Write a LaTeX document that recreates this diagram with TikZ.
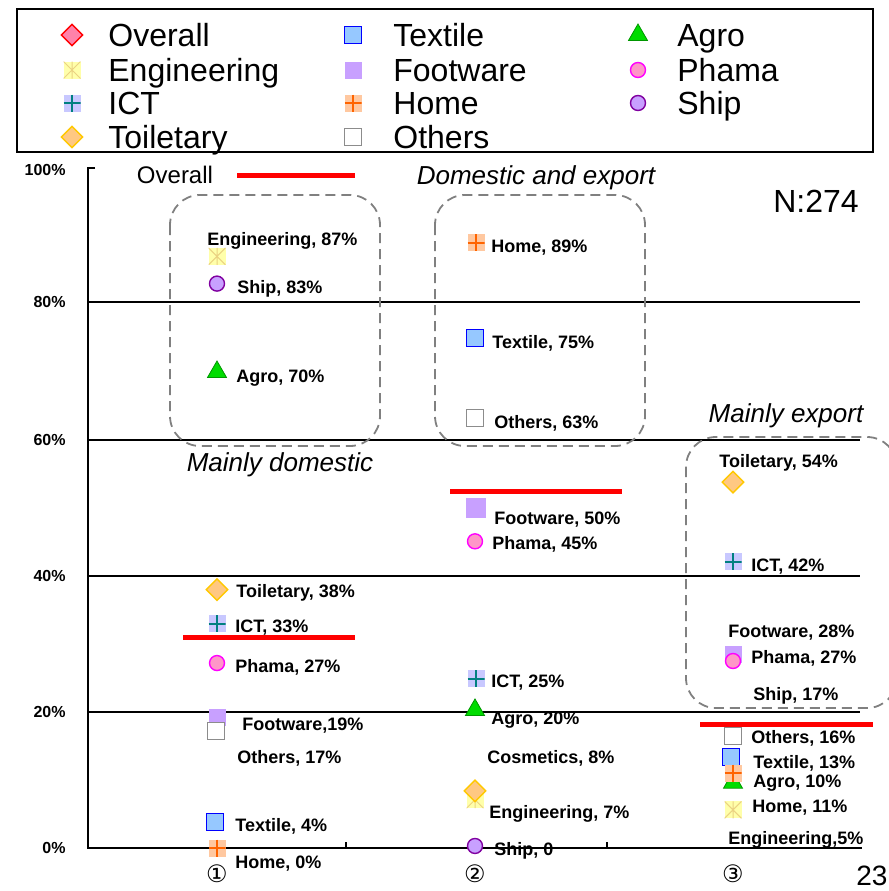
\documentclass[tikz,border=0pt]{standalone}
\usepackage{fontspec}
\setmainfont{Liberation Sans}
\newfontfamily\circfont{DejaVu Sans}
\usetikzlibrary{shapes.geometric}
\definecolor{overallred}{RGB}{255,0,0}
\definecolor{overallfill}{RGB}{255,130,170}
\definecolor{engfill}{RGB}{255,255,170}
\definecolor{engline}{RGB}{235,210,130}
\definecolor{ictfill}{RGB}{200,200,255}
\definecolor{ictline}{RGB}{0,128,128}
\definecolor{toilfill}{RGB}{255,200,130}
\definecolor{toilline}{RGB}{255,200,0}
\definecolor{textilefill}{RGB}{150,200,255}
\definecolor{textileline}{RGB}{0,0,255}
\definecolor{footfill}{RGB}{200,160,255}
\definecolor{homefill}{RGB}{255,200,160}
\definecolor{homeline}{RGB}{255,100,0}
\definecolor{othersline}{RGB}{140,140,140}
\definecolor{agrofill}{RGB}{0,220,0}
\definecolor{agroline}{RGB}{0,150,0}
\definecolor{phamafill}{RGB}{255,150,200}
\definecolor{phamaline}{RGB}{255,0,255}
\definecolor{shipfill}{RGB}{200,160,255}
\definecolor{shipline}{RGB}{128,0,160}
\definecolor{boxgray}{RGB}{128,128,128}
\newcommand{\crossin}[1]{\draw[#1,line width=1pt] (path picture bounding box.north) -- (path picture bounding box.south) (path picture bounding box.west) -- (path picture bounding box.east);}
\tikzstyle{sym}=[inner sep=0pt, minimum size=8.5pt, line width=0.7pt]
\tikzstyle{overall}=[sym, diamond, minimum size=11pt, draw=overallred, fill=overallfill]
\tikzstyle{engineering}=[sym, rectangle, fill=engfill, path picture={\draw[engline,line width=0.5pt] (path picture bounding box.north west) -- (path picture bounding box.south east) (path picture bounding box.south west) -- (path picture bounding box.north east) (path picture bounding box.north) -- (path picture bounding box.south);}]
\tikzstyle{ict}=[sym, rectangle, fill=ictfill, path picture={\crossin{ictline}}]
\tikzstyle{toiletary}=[sym, diamond, minimum size=11pt, draw=toilline, fill=toilfill]
\tikzstyle{textile}=[sym, rectangle, draw=textileline, fill=textilefill]
\tikzstyle{footware}=[sym, rectangle, fill=footfill]
\tikzstyle{home}=[sym, rectangle, fill=homefill, path picture={\crossin{homeline}}]
\tikzstyle{others}=[sym, rectangle, draw=othersline, fill=white]
\tikzstyle{agro}=[sym, regular polygon, regular polygon sides=3, minimum size=11pt, draw=agroline, fill=agrofill, line width=0.4pt]
\tikzstyle{phama}=[sym, circle, minimum size=7.5pt, draw=phamaline, fill=phamafill]
\tikzstyle{ship}=[sym, circle, minimum size=7.5pt, draw=shipline, fill=shipfill]
\tikzstyle{legtext}=[anchor=west, inner sep=0pt, text height=11.5pt, text depth=0pt, font=\fontsize{16}{18}\selectfont]
\tikzstyle{lbl}=[anchor=west, inner sep=0pt, text height=6.5pt, text depth=0pt, font=\fontsize{9}{10}\selectfont\bfseries]
\tikzstyle{ylab}=[anchor=east, inner sep=0pt, text height=5.7pt, text depth=0pt, font=\fontsize{8}{9}\selectfont\bfseries]
\tikzstyle{heading}=[inner sep=0pt, text height=9.3pt, text depth=0pt, font=\fontsize{13}{15}\selectfont\itshape]
\tikzstyle{colnum}=[inner sep=0pt, font=\circfont\fontsize{12}{13}\selectfont]
\tikzstyle{gridline}=[line width=0.9pt]
\tikzstyle{overallbar}=[overallred, line width=2.5pt]
\tikzstyle{groupbox}=[boxgray, dashed, line width=0.9pt, dash pattern=on 5pt off 3pt, rounded corners=15pt]

\begin{document}
\begin{tikzpicture}[x=0.5pt,y=-0.5pt]
  \useasboundingbox (0,0) rectangle (889,891);
  %% Legend
  \draw[line width=0.9pt] (17,9) rectangle (873,152);
  \draw (72,35) node[overall] (LOver) {};
  \draw (108,35) node[legtext] (LOverT) {Overall};
  \draw (72,70) node[engineering] (LEng) {};
  \draw (108,70) node[legtext] (LEngT) {Engineering};
  \draw (72,103) node[ict] (LICT) {};
  \draw (108,103) node[legtext] (LICTT) {ICT};
  \draw (72,137) node[toiletary] (LToil) {};
  \draw (108,137) node[legtext] (LToilT) {Toiletary};

  \draw (353,35) node[textile] (LText) {};
  \draw (393,35) node[legtext] (LTextT) {Textile};
  \draw (353,70) node[footware] (LFoot) {};
  \draw (393,70) node[legtext] (LFootT) {Footware};
  \draw (353,103) node[home] (LHome) {};
  \draw (393,103) node[legtext] (LHomeT) {Home};
  \draw (353,137) node[others] (LOth) {};
  \draw (393,137) node[legtext] (LOthT) {Others};

  \draw (638,35) node[agro] (LAgro) {};
  \draw (677,35) node[legtext] (LAgroT) {Agro};
  \draw (638,70) node[phama] (LPha) {};
  \draw (677,70) node[legtext] (LPhaT) {Phama};
  \draw (638,103) node[ship] (LShip) {};
  \draw (677,103) node[legtext] (LShipT) {Ship};

  %% Axes and grid
  \draw[gridline] (95,168) -- (88,168) -- (88,848) -- (862,848);
  \foreach \y in {302,440,576,712}
    \draw[gridline] (88,\y) -- (860,\y);
  \draw[gridline] (346,848) -- (346,842);
  \draw[gridline] (607,848) -- (607,842);
  \draw (66,170) node[ylab] (Y100) {100\%};
  \draw (66,302) node[ylab] (Y80) {80\%};
  \draw (66,440) node[ylab] (Y60) {60\%};
  \draw (66,576) node[ylab] (Y40) {40\%};
  \draw (66,712) node[ylab] (Y20) {20\%};
  \draw (66,848) node[ylab] (Y0) {0\%};
  \draw (217,874) node[colnum] (C1) {①};
  \draw (475,874) node[colnum] (C2) {②};
  \draw (733,874) node[colnum] (C3) {③};
  \draw (856,866) node[anchor=north west, inner sep=0pt, font=\fontsize{14}{16}\selectfont] (Pg) {23};

  %% Headings
  \draw (175,175) node[inner sep=0pt, text height=8.6pt, text depth=0pt, font=\fontsize{12}{14}\selectfont] (OverT) {Overall};
  \draw[overallbar] (237,175) -- (355,175);
  \draw (536,175) node[heading] (DomExp) {Domestic and export};
  \draw (280,462) node[heading] (MainDom) {Mainly domestic};
  \draw (786,413) node[heading] (MainExp) {Mainly export};
  \draw (816,201) node[inner sep=0pt, text height=11.5pt, text depth=0pt, font=\fontsize{16}{18}\selectfont] (N) {N:274};

  %% Groups
  \draw[groupbox] (170,195) rectangle (380,446);
  \draw[groupbox] (435,195) rectangle (645,446);
  \draw[groupbox] (686,437) rectangle (897,708);

  \begin{scope}[shift={(0,848)},y=3.4pt]
    %% Column 1
    \draw[overallbar] (183,30.9) -- (355,30.9);
    \draw (217,87) node[engineering] (Eng1) {};
    \draw (207,89.6) node[lbl] (Eng1t) {Engineering, 87\%};
    \draw (217,83) node[ship] (Ship1) {};
    \draw (237,82.5) node[lbl] (Ship1t) {Ship, 83\%};
    \draw (217,70) node[agro] (Agro1) {};
    \draw (236,69.4) node[lbl] (Agro1t) {Agro, 70\%};
    \draw (217,38) node[toiletary] (Toil1) {};
    \draw (236,37.8) node[lbl] (Toil1t) {Toiletary, 38\%};
    \draw (217,33) node[ict] (ICT1) {};
    \draw (235,32.6) node[lbl] (ICT1t) {ICT, 33\%};
    \draw (217,27.2) node[phama] (Pha1) {};
    \draw (235,26.8) node[lbl] (Pha1t) {Phama, 27\%};
    \draw (217,19.2) node[footware] (Foot1) {};
    \draw (242,18.2) node[lbl] (Foot1t) {Footware,19\%};
    \draw (216,17.2) node[others] (Oth1) {};
    \draw (237,13.4) node[lbl] (Oth1t) {Others, 17\%};
    \draw (215,3.8) node[textile] (Text1) {};
    \draw (235,3.4) node[lbl] (Text1t) {Textile, 4\%};
    \draw (217,0) node[home] (Home1) {};
    \draw (235,-2.1) node[lbl] (Home1t) {Home, 0\%};

    %% Column 2
    \draw[overallbar] (450,52.4) -- (622,52.4);
    \draw (476,89) node[home] (Home2) {};
    \draw (491,88.5) node[lbl] (Home2t) {Home, 89\%};
    \draw (475,75) node[textile] (Text2) {};
    \draw (492,74.4) node[lbl] (Text2t) {Textile, 75\%};
    \draw (475,63.2) node[others] (Oth2) {};
    \draw (494,62.6) node[lbl] (Oth2t) {Others, 63\%};
    \draw (476,50) node[footware, minimum size=10pt] (Foot2) {};
    \draw (494,48.5) node[lbl] (Foot2t) {Footware, 50\%};
    \draw (475,45.1) node[phama] (Pha2) {};
    \draw (492,44.9) node[lbl] (Pha2t) {Phama, 45\%};
    \draw (476,24.9) node[ict] (ICT2) {};
    \draw (491,24.6) node[lbl] (ICT2t) {ICT, 25\%};
    \draw (475,20.3) node[agro] (Agro2) {};
    \draw (491,19.1) node[lbl] (Agro2t) {Agro, 20\%};
    \draw (487,13.4) node[lbl] (Cos2t) {Cosmetics, 8\%};
    \draw (475,7.1) node[engineering] (Eng2) {};
    \draw (475,8.4) node[toiletary] (Toil2) {};
    \draw (489,5.3) node[lbl] (Eng2t) {Engineering, 7\%};
    \draw (494,-0.1) node[lbl] (Ship2t) {Ship, 0};
    \draw (475,0.3) node[ship] (Ship2) {};

    %% Column 3
    \draw[overallbar] (700,18.2) -- (873,18.2);
    \draw (733,53.8) node[toiletary] (Toil3) {};
    \draw (719,56.9) node[lbl] (Toil3t) {Toiletary, 54\%};
    \draw (733,42.1) node[ict] (ICT3) {};
    \draw (751,41.6) node[lbl] (ICT3t) {ICT, 42\%};
    \draw (733,28.4) node[footware] (Foot3) {};
    \draw (728,31.9) node[lbl] (Foot3t) {Footware, 28\%};
    \draw (733,27.5) node[phama] (Pha3) {};
    \draw (751,28.1) node[lbl] (Pha3t) {Phama, 27\%};
    \draw (753,22.6) node[lbl] (Ship3t) {Ship, 17\%};
    \draw (733,16.5) node[others] (Oth3) {};
    \draw (751,16.3) node[lbl] (Oth3t) {Others, 16\%};
    \draw (731,13.4) node[textile] (Text3) {};
    \draw (753,12.6) node[lbl] (Text3t) {Textile, 13\%};
    \draw (733,9.6) node[agro] (Agro3) {};
    \draw (733,11) node[home] (Home3) {};
    \draw (753,9.9) node[lbl] (Agro3t) {Agro, 10\%};
    \draw (752,6.2) node[lbl] (Home3t) {Home, 11\%};
    \draw (733,5.6) node[engineering] (Eng3) {};
    \draw (728,1.5) node[lbl] (Eng3t) {Engineering,5\%};
  \end{scope}
\end{tikzpicture}
\end{document}
